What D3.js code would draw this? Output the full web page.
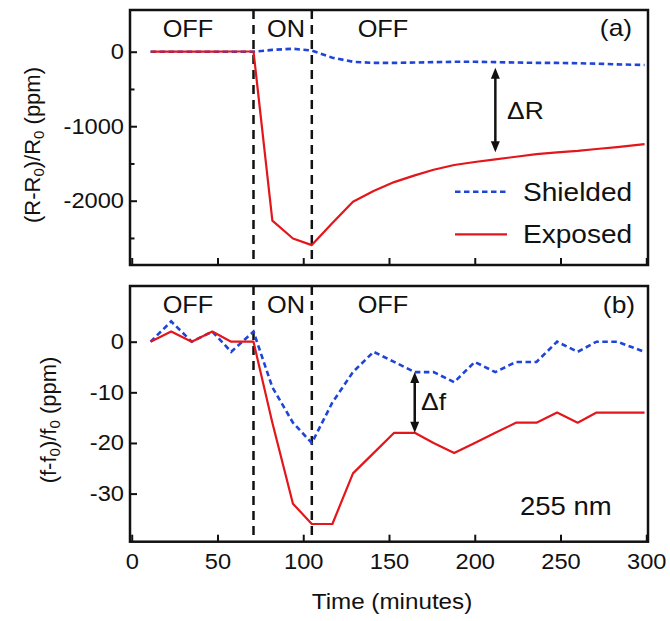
<!DOCTYPE html>
<html><head><meta charset="utf-8">
<script src="https://cdn.jsdelivr.net/npm/d3@7"></script>
<style>
body{margin:0;background:#fff}
svg{display:block}
text{font-family:"Liberation Sans",Arial,sans-serif;fill:#111;white-space:pre}
</style>
</head><body>
<svg id="c" width="670" height="621"></svg>
<script>
// ---- data ----
const times = [11, 23, 35, 47, 58, 71, 82, 94, 105, 117, 129, 141, 153, 165, 176, 188, 200, 212, 224, 236, 248, 260, 271, 283, 299];
const resShielded = [0, 0, 0, 0, 0, 0, 25, 40, 15, -80, -135, -150, -150, -145, -140, -135, -135, -140, -145, -150, -150, -155, -160, -170, -178];
const resExposed = [0, 0, 0, 0, 3, 3, -2268, -2507, -2596, -2300, -2013, -1870, -1750, -1660, -1585, -1521, -1480, -1445, -1410, -1375, -1350, -1330, -1306, -1280, -1240];
const freqShielded = [0, 4, 0, 2, -2, 2, -9, -16, -20, -12, -6, -2, -4, -6, -6, -8, -4, -6, -4, -4, 0, -2, 0, 0, -2];
const freqExposed = [0, 2, 0, 2, 0, 0, -16, -32, -36, -36, -26, -22, -18, -18, -20, -22, -20, -18, -16, -16, -14, -16, -14, -14, -14];
const switchTimes = [71, 105];
const xTicks = [0, 50, 100, 150, 200, 250, 300];
const resTicks = [0, -1000, -2000];
const resMinorTicks = [-500, -1500, -2500];
const freqTicks = [0, -10, -20, -30];
const phaseLabels = ["OFF", "ON", "OFF"];
const seriesNames = ["Shielded", "Exposed"];
const deltaR = {t: 212, from: -215, to: -1350};
const deltaF = {t: 165, from: -6, to: -18};

const RED = "#e3161b", BLUE = "#1f45d8";
const STRETCH = 1.1;
const fmt = d => String(d);

const svg = d3.select("#c");
const x = d3.scaleLinear().domain([-1, 301]).range([130, 648]);
const yTop = d3.scaleLinear().domain([-2863, 560]).range([265, 10]);
const yBot = d3.scaleLinear().domain([-39.5, 11]).range([541.7, 286]);

function stretch(sel, f) {
  sel.each(function () {
    const L = this.getComputedTextLength();
    this.setAttribute("textLength", L * (f || STRETCH));
    this.setAttribute("lengthAdjust", "spacingAndGlyphs");
  });
}

function panel(y, ticks, minor, s1, s2, showXLabels) {
  const g = svg.append("g");
  const [y0, y1] = y.range();
  // vertical ON/OFF lines
  g.selectAll("line.sw").data(switchTimes).join("line")
    .attr("x1", d => x(d)).attr("x2", d => x(d))
    .attr("y1", y1).attr("y2", y0)
    .attr("stroke", "#111").attr("stroke-width", 2.5).attr("stroke-dasharray", "9,6");
  // y axis
  const ya = g.append("g").attr("transform", `translate(${x.range()[0]},0)`)
    .call(d3.axisLeft(y).tickValues(ticks).tickSizeInner(-7).tickSizeOuter(0).tickPadding(6).tickFormat(fmt));
  ya.select(".domain").remove();
  ya.selectAll("line").attr("stroke", "#111").attr("stroke-width", 2);
  ya.selectAll("text").attr("font-size", 21.5).attr("font-family", null).attr("fill", "#111");
  stretch(ya.selectAll("text"));
  if (minor.length) {
    const ym = g.append("g").attr("transform", `translate(${x.range()[0]},0)`)
      .call(d3.axisLeft(y).tickValues(minor).tickSizeInner(-4.5).tickSizeOuter(0).tickFormat(""));
    ym.select(".domain").remove();
    ym.selectAll("line").attr("stroke", "#111").attr("stroke-width", 2);
  }
  // x axis
  const xa = g.append("g").attr("transform", `translate(0,${y0})`)
    .call(d3.axisBottom(x).tickValues(xTicks).tickSizeInner(-7).tickSizeOuter(0).tickPadding(12)
      .tickFormat(showXLabels ? fmt : ""));
  xa.select(".domain").remove();
  xa.selectAll("line").attr("stroke", "#111").attr("stroke-width", 2);
  xa.selectAll("text").attr("font-size", 21.5).attr("font-family", null).attr("fill", "#111");
  if (showXLabels) stretch(xa.selectAll("text"));
  // series
  const line = d3.line().x((d, i) => x(times[i])).y(d => y(d));
  g.append("path").datum(s1).attr("d", line).attr("fill", "none")
    .attr("stroke", BLUE).attr("stroke-width", 2.6).attr("stroke-dasharray", "5.5,3.5");
  g.append("path").datum(s2).attr("d", line).attr("fill", "none")
    .attr("stroke", RED).attr("stroke-width", 2.2).attr("stroke-linejoin", "round");
  // frame
  g.append("rect").attr("x", x.range()[0]).attr("y", y1)
    .attr("width", x.range()[1] - x.range()[0]).attr("height", y0 - y1)
    .attr("fill", "none").attr("stroke", "#111").attr("stroke-width", 2.5);
  // phase labels
  const base = y1 + 27;
  const px = [188, 286, 383];
  phaseLabels.forEach((t, i) => {
    const tt = g.append("text").attr("x", px[i]).attr("y", base).attr("text-anchor", "middle")
      .attr("font-size", 23).text(t);
    stretch(tt);
  });
  return g;
}

function arrow(g, xp, ya, yb) {
  const h = 11, w = 4.5;
  g.append("line").attr("x1", xp).attr("x2", xp).attr("y1", ya + h - 2).attr("y2", yb - h + 2)
    .attr("stroke", "#111").attr("stroke-width", 2.5);
  g.append("path").attr("d", `M${xp},${ya} L${xp - w},${ya + h} L${xp + w},${ya + h} Z`).attr("fill", "#111");
  g.append("path").attr("d", `M${xp},${yb} L${xp - w},${yb - h} L${xp + w},${yb - h} Z`).attr("fill", "#111");
}

const gTop = panel(yTop, resTicks, resMinorTicks, resShielded, resExposed, false);
const gBot = panel(yBot, freqTicks, [], freqShielded, freqExposed, true);

// panel tags
stretch(gTop.append("text").attr("x", 616).attr("y", 36).attr("text-anchor", "middle").attr("font-size", 24).text("(a)"));
stretch(gBot.append("text").attr("x", 619).attr("y", 313).attr("text-anchor", "middle").attr("font-size", 24).text("(b)"));

// delta arrows
arrow(gTop, x(deltaR.t), yTop(deltaR.from), yTop(deltaR.to));
stretch(gTop.append("text").attr("x", 507).attr("y", 119).attr("font-size", 24).text("ΔR"));
arrow(gBot, x(deltaF.t), yBot(deltaF.from), yBot(deltaF.to));
stretch(gBot.append("text").attr("x", 421).attr("y", 410).attr("font-size", 24).text("Δf"));

// 255 nm
stretch(gBot.append("text").attr("x", 520).attr("y", 515).attr("font-size", 25).text("255 nm"));

// legend
const leg = svg.append("g");
leg.append("line").attr("x1", 455).attr("x2", 507).attr("y1", 191.7).attr("y2", 191.7)
  .attr("stroke", BLUE).attr("stroke-width", 2.6).attr("stroke-dasharray", "5.5,3.5");
leg.append("line").attr("x1", 455).attr("x2", 507).attr("y1", 234.3).attr("y2", 234.3)
  .attr("stroke", RED).attr("stroke-width", 2.2);
stretch(leg.append("text").attr("x", 523).attr("y", 200.7).attr("font-size", 25.5).text(seriesNames[0]));
stretch(leg.append("text").attr("x", 523).attr("y", 243.3).attr("font-size", 25.5).text(seriesNames[1]));

// axis titles
const xt = svg.append("text").attr("x", 392).attr("y", 609).attr("text-anchor", "middle").attr("font-size", 22).text("Time (minutes)");
stretch(xt);

function yTitle(cx, cy, letter) {
  const t = svg.append("text").attr("transform", `translate(${cx},${cy}) rotate(-90)`)
    .attr("text-anchor", "middle").attr("font-size", 22);
  t.append("tspan").text(`(${letter}-${letter}`);
  t.append("tspan").text("0").attr("font-size", 15).attr("dy", 4);
  t.append("tspan").text(`)/${letter}`).attr("dy", -4);
  t.append("tspan").text("0").attr("font-size", 15).attr("dy", 4);
  t.append("tspan").text(" (ppm)").attr("dy", -4);
}
yTitle(40, 145, "R");
yTitle(56, 420, "f");
</script>
</body></html>
